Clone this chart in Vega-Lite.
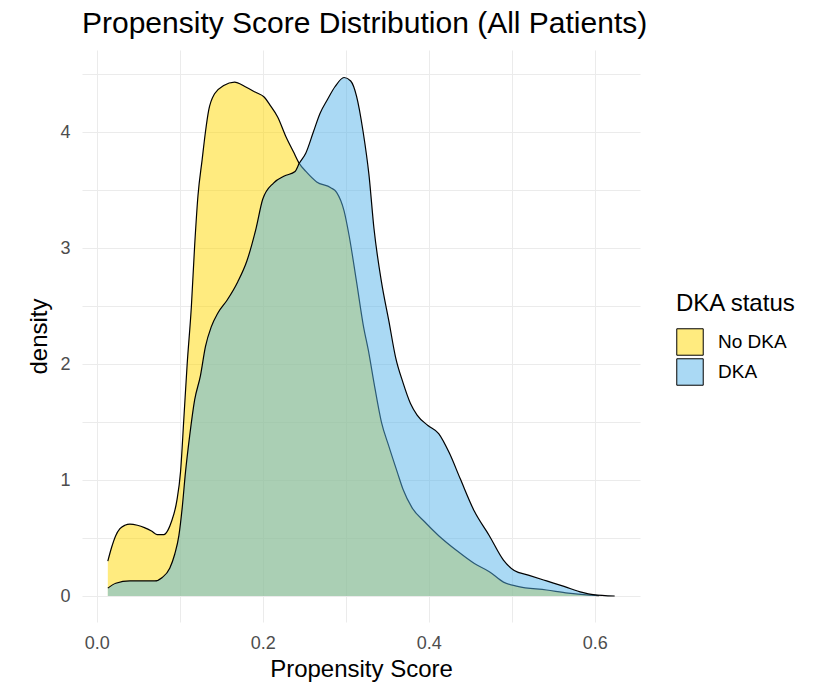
{
  "$schema": "https://vega.github.io/schema/vega-lite/v6.json",
  "autosize": {"type": "none"},
  "padding": {"left": 82, "top": 50, "right": 178, "bottom": 62},
  "width": 558,
  "height": 572,
  "background": "white",
  "title": {
    "text": "Propensity Score Distribution (All Patients)",
    "anchor": "start",
    "frame": "group",
    "font": "Liberation Sans",
    "fontSize": 30,
    "fontWeight": "normal",
    "color": "black",
    "offset": 11
  },
  "config": {
    "view": {"stroke": null},
    "axis": {
      "font": "Liberation Sans",
      "labelFont": "Liberation Sans",
      "titleFont": "Liberation Sans",
      "labelColor": "#4D4D4D",
      "labelFontSize": 18,
      "titleFontSize": 24,
      "titleFontWeight": "normal",
      "titleColor": "black",
      "domain": false,
      "ticks": false,
      "tickSize": 0,
      "gridColor": "#EBEBEB",
      "gridWidth": 1
    },
    "legend": {
      "labelFont": "Liberation Sans",
      "titleFont": "Liberation Sans"
    }
  },
  "datasets": {
    "dens": [
      {"status": "No DKA", "score": 0.0134, "density": 0.30},
      {"status": "No DKA", "score": 0.018, "density": 0.42},
      {"status": "No DKA", "score": 0.0229, "density": 0.52},
      {"status": "No DKA", "score": 0.028, "density": 0.58},
      {"status": "No DKA", "score": 0.034, "density": 0.61},
      {"status": "No DKA", "score": 0.040, "density": 0.62},
      {"status": "No DKA", "score": 0.049, "density": 0.61},
      {"status": "No DKA", "score": 0.0575, "density": 0.59},
      {"status": "No DKA", "score": 0.066, "density": 0.56},
      {"status": "No DKA", "score": 0.0727, "density": 0.53},
      {"status": "No DKA", "score": 0.081, "density": 0.53},
      {"status": "No DKA", "score": 0.086, "density": 0.57},
      {"status": "No DKA", "score": 0.090, "density": 0.64},
      {"status": "No DKA", "score": 0.0965, "density": 0.82},
      {"status": "No DKA", "score": 0.101, "density": 1.07},
      {"status": "No DKA", "score": 0.105, "density": 1.53},
      {"status": "No DKA", "score": 0.109, "density": 2.0},
      {"status": "No DKA", "score": 0.114, "density": 2.49},
      {"status": "No DKA", "score": 0.118, "density": 3.02},
      {"status": "No DKA", "score": 0.122, "density": 3.45},
      {"status": "No DKA", "score": 0.127, "density": 3.76},
      {"status": "No DKA", "score": 0.131, "density": 4.0},
      {"status": "No DKA", "score": 0.135, "density": 4.19},
      {"status": "No DKA", "score": 0.142, "density": 4.33},
      {"status": "No DKA", "score": 0.153, "density": 4.40},
      {"status": "No DKA", "score": 0.166, "density": 4.43},
      {"status": "No DKA", "score": 0.179, "density": 4.39},
      {"status": "No DKA", "score": 0.192, "density": 4.34},
      {"status": "No DKA", "score": 0.202, "density": 4.30},
      {"status": "No DKA", "score": 0.209, "density": 4.23},
      {"status": "No DKA", "score": 0.218, "density": 4.13},
      {"status": "No DKA", "score": 0.228, "density": 3.96},
      {"status": "No DKA", "score": 0.237, "density": 3.83},
      {"status": "No DKA", "score": 0.244, "density": 3.73},
      {"status": "No DKA", "score": 0.252, "density": 3.66},
      {"status": "No DKA", "score": 0.265, "density": 3.57},
      {"status": "No DKA", "score": 0.282, "density": 3.52},
      {"status": "No DKA", "score": 0.289, "density": 3.48},
      {"status": "No DKA", "score": 0.298, "density": 3.32},
      {"status": "No DKA", "score": 0.304, "density": 3.11},
      {"status": "No DKA", "score": 0.313, "density": 2.71},
      {"status": "No DKA", "score": 0.321, "density": 2.34},
      {"status": "No DKA", "score": 0.328, "density": 2.09},
      {"status": "No DKA", "score": 0.334, "density": 1.84},
      {"status": "No DKA", "score": 0.343, "density": 1.50},
      {"status": "No DKA", "score": 0.352, "density": 1.29},
      {"status": "No DKA", "score": 0.362, "density": 1.07},
      {"status": "No DKA", "score": 0.369, "density": 0.92},
      {"status": "No DKA", "score": 0.380, "density": 0.76},
      {"status": "No DKA", "score": 0.395, "density": 0.64},
      {"status": "No DKA", "score": 0.412, "density": 0.52},
      {"status": "No DKA", "score": 0.434, "density": 0.39},
      {"status": "No DKA", "score": 0.455, "density": 0.28},
      {"status": "No DKA", "score": 0.473, "density": 0.21},
      {"status": "No DKA", "score": 0.490, "density": 0.12},
      {"status": "No DKA", "score": 0.507, "density": 0.083},
      {"status": "No DKA", "score": 0.542, "density": 0.052},
      {"status": "No DKA", "score": 0.568, "density": 0.025},
      {"status": "No DKA", "score": 0.594, "density": 0.008},
      {"status": "No DKA", "score": 0.605, "density": 0.003},
      {"status": "DKA", "score": 0.0134, "density": 0.068},
      {"status": "DKA", "score": 0.023, "density": 0.11},
      {"status": "DKA", "score": 0.040, "density": 0.13},
      {"status": "DKA", "score": 0.055, "density": 0.13},
      {"status": "DKA", "score": 0.070, "density": 0.13},
      {"status": "DKA", "score": 0.079, "density": 0.16},
      {"status": "DKA", "score": 0.088, "density": 0.24},
      {"status": "DKA", "score": 0.094, "density": 0.36},
      {"status": "DKA", "score": 0.099, "density": 0.52},
      {"status": "DKA", "score": 0.103, "density": 0.76},
      {"status": "DKA", "score": 0.107, "density": 1.07},
      {"status": "DKA", "score": 0.112, "density": 1.38},
      {"status": "DKA", "score": 0.118, "density": 1.69},
      {"status": "DKA", "score": 0.125, "density": 1.90},
      {"status": "DKA", "score": 0.131, "density": 2.15},
      {"status": "DKA", "score": 0.138, "density": 2.32},
      {"status": "DKA", "score": 0.146, "density": 2.44},
      {"status": "DKA", "score": 0.157, "density": 2.55},
      {"status": "DKA", "score": 0.170, "density": 2.71},
      {"status": "DKA", "score": 0.181, "density": 2.89},
      {"status": "DKA", "score": 0.192, "density": 3.17},
      {"status": "DKA", "score": 0.200, "density": 3.42},
      {"status": "DKA", "score": 0.213, "density": 3.56},
      {"status": "DKA", "score": 0.226, "density": 3.62},
      {"status": "DKA", "score": 0.239, "density": 3.66},
      {"status": "DKA", "score": 0.244, "density": 3.73},
      {"status": "DKA", "score": 0.252, "density": 3.82},
      {"status": "DKA", "score": 0.261, "density": 4.0},
      {"status": "DKA", "score": 0.269, "density": 4.16},
      {"status": "DKA", "score": 0.278, "density": 4.28},
      {"status": "DKA", "score": 0.287, "density": 4.39},
      {"status": "DKA", "score": 0.298, "density": 4.47},
      {"status": "DKA", "score": 0.306, "density": 4.44},
      {"status": "DKA", "score": 0.313, "density": 4.31},
      {"status": "DKA", "score": 0.321, "density": 4.0},
      {"status": "DKA", "score": 0.328, "density": 3.63},
      {"status": "DKA", "score": 0.334, "density": 3.17},
      {"status": "DKA", "score": 0.343, "density": 2.71},
      {"status": "DKA", "score": 0.352, "density": 2.37},
      {"status": "DKA", "score": 0.360, "density": 2.06},
      {"status": "DKA", "score": 0.369, "density": 1.84},
      {"status": "DKA", "score": 0.378, "density": 1.66},
      {"status": "DKA", "score": 0.386, "density": 1.56},
      {"status": "DKA", "score": 0.399, "density": 1.47},
      {"status": "DKA", "score": 0.412, "density": 1.40},
      {"status": "DKA", "score": 0.425, "density": 1.23},
      {"status": "DKA", "score": 0.438, "density": 1.01},
      {"status": "DKA", "score": 0.455, "density": 0.73},
      {"status": "DKA", "score": 0.473, "density": 0.52},
      {"status": "DKA", "score": 0.490, "density": 0.31},
      {"status": "DKA", "score": 0.503, "density": 0.22},
      {"status": "DKA", "score": 0.520, "density": 0.18},
      {"status": "DKA", "score": 0.542, "density": 0.13},
      {"status": "DKA", "score": 0.563, "density": 0.083},
      {"status": "DKA", "score": 0.585, "density": 0.031},
      {"status": "DKA", "score": 0.598, "density": 0.012},
      {"status": "DKA", "score": 0.624, "density": 0.0}
    ]
  },
  "data": {"name": "dens"},
  "encoding": {
    "x": {
      "field": "score",
      "type": "quantitative",
      "title": "Propensity Score",
      "scale": {"domain": [-0.0177, 0.6545], "nice": false, "zero": false},
      "axis": {
        "values": [0, 0.1, 0.2, 0.3, 0.4, 0.5, 0.6],
        "labelExpr": "round(datum.value * 10) % 2 == 0 ? format(datum.value, '.1f') : ''",
        "labelPadding": 12,
        "titlePadding": 5,
        "grid": true
      }
    },
    "y": {
      "field": "density",
      "type": "quantitative",
      "title": "density",
      "scale": {"domain": [-0.224, 4.707], "nice": false, "zero": false},
      "axis": {
        "values": [0, 0.5, 1, 1.5, 2, 2.5, 3, 3.5, 4, 4.5],
        "labelExpr": "datum.value % 1 == 0 ? format(datum.value, 'd') : ''",
        "labelPadding": 12,
        "titlePadding": 8,
        "grid": true
      }
    }
  },
  "layer": [
    {
      "transform": [{"filter": "datum.status == 'No DKA'"}],
      "mark": {"type": "area", "fillOpacity": 0.5, "interpolate": "monotone"},
      "encoding": {
        "fill": {
          "field": "status",
          "type": "nominal",
          "title": "DKA status",
          "scale": {"domain": ["No DKA", "DKA"], "range": ["#FFD700", "#56B4E9"]},
          "legend": {
            "orient": "none",
            "legendX": 594,
            "legendY": 242,
            "padding": 0,
            "titleFontSize": 24,
            "titleFontWeight": "normal",
            "titleColor": "black",
            "titlePadding": 12,
            "labelFontSize": 19,
            "labelColor": "black",
            "labelOffset": 14,
            "symbolType": "square",
            "symbolSize": 700,
            "symbolStrokeColor": "black",
            "symbolStrokeWidth": 1,
            "rowPadding": -5,
            "encode": {"symbols": {"update": {"fillOpacity": {"value": 0.5}, "stroke": {"value": "black"}}}}
          }
        }
      }
    },
    {
      "transform": [{"filter": "datum.status == 'No DKA'"}],
      "mark": {"type": "line", "color": "black", "strokeWidth": 1.2, "interpolate": "monotone"},
      "encoding": {}
    },
    {
      "transform": [{"filter": "datum.status == 'DKA'"}],
      "mark": {"type": "area", "fillOpacity": 0.5, "interpolate": "monotone"},
      "encoding": {
        "fill": {"field": "status", "type": "nominal"}
      }
    },
    {
      "transform": [{"filter": "datum.status == 'DKA'"}],
      "mark": {"type": "line", "color": "black", "strokeWidth": 1.2, "interpolate": "monotone"},
      "encoding": {}
    }
  ]
}
